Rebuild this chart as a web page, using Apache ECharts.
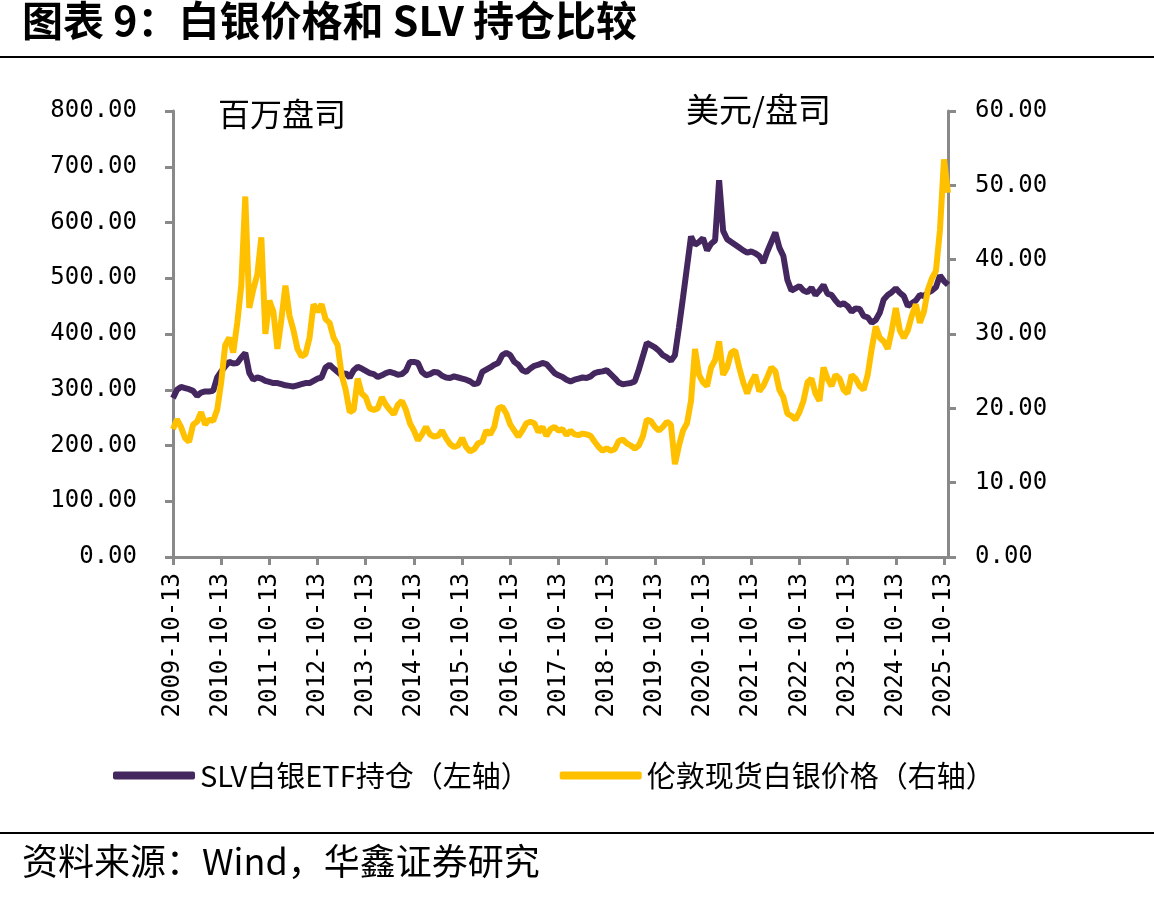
<!DOCTYPE html>
<html lang="zh">
<head>
  <meta charset="UTF-8">
  <title>图表 9</title>
  <script src="https://cdn.jsdelivr.net/npm/echarts@6/dist/echarts.min.js"></script>
</head>
<body style="margin: 0;">
<div id="main" style="width: 1154px; height: 902px;"></div>
<script type="text/javascript">
  // monthly points, 2009-10-13 .. 2025-11-13
  const startYear = 2009, startMonth = 10, monthCount = 194
  const dates = []
  for (let i = 0; i < monthCount; i++) {
    const y = startYear + Math.floor((startMonth - 1 + i) / 12)
    const m = (startMonth - 1 + i) % 12 + 1
    dates.push(y + '-' + (m < 10 ? '0' + m : m) + '-13')
  }

  // SLV白银ETF持仓（百万盎司）
  const slvHoldings = [
    285, 300, 305, 303, 301, 298, 289, 295, 297, 297, 298, 322,
    333, 342, 350, 347, 348, 358, 366, 330, 318, 322, 320, 316,
    314, 312, 312, 310, 308, 307, 306, 308, 310, 312, 312, 316,
    320, 322, 340, 345, 338, 332, 326, 330, 322, 335, 341, 338,
    334, 330, 328, 323, 326, 330, 332, 330, 327, 328, 334, 350,
    350, 348, 332, 326, 328, 332, 331, 325, 322, 321, 324, 322,
    320, 318, 315, 310, 312, 332, 336, 340, 345, 348, 362, 366,
    362, 350, 345, 335, 332, 338, 343, 345, 348, 346, 338, 330,
    326, 323, 318, 315, 318, 320, 322, 321, 324, 330, 332, 333,
    335, 328, 321, 313, 310, 311, 312, 315, 336, 360, 384, 380,
    376, 370, 362, 358, 352, 362, 412, 465, 520, 575, 560, 565,
    572, 550, 562, 568, 676, 585, 570, 565, 560, 555, 550, 546,
    548, 545, 540, 528, 548, 565, 582, 555, 540, 497, 478, 482,
    486, 478, 475, 483, 470, 478, 488, 472, 470, 460, 452, 455,
    450, 440, 446, 445, 432, 430, 420, 425, 438, 462, 470, 475,
    482, 474, 468, 450, 455, 460, 470, 468, 474, 478, 484, 505,
    495, 488
  ]

  // 伦敦现货白银价格（美元/盎司）
  const silverPrice = [
    17.2, 18.5, 17.5, 16.0, 15.5, 17.8, 18.2, 19.5, 17.8, 18.5, 18.3, 19.8,
    23.5, 28.5, 29.5, 27.5, 31.5, 36.5, 48.5, 33.5, 36.0, 38.0, 43.0, 30.0,
    34.5, 33.0, 28.0, 32.0, 36.5, 32.5, 30.5, 28.0, 27.0, 27.3, 29.5, 34.0,
    33.0, 34.0, 32.0, 31.5, 29.5, 28.5, 24.5, 22.5, 19.5, 19.8, 24.0, 22.0,
    21.5, 20.0, 19.8, 20.0, 21.5, 20.5, 19.8, 19.2, 20.5, 21.0, 19.8, 18.0,
    17.0, 15.7, 16.5, 17.5, 16.5, 16.2, 16.3, 17.0, 16.0, 15.2, 14.8, 15.0,
    16.0, 14.8, 14.2, 14.5, 15.3, 15.5, 17.0, 16.5, 17.5, 20.0, 20.2, 19.3,
    17.8, 17.0, 16.2, 17.0, 18.0, 18.2, 18.0, 16.8, 17.5, 16.3, 17.2, 17.5,
    17.0, 17.2, 16.4, 17.0, 16.5, 16.4, 16.6, 16.5, 16.3, 15.5, 14.8, 14.3,
    14.6, 14.3, 14.5, 15.6, 15.8, 15.3, 15.0, 14.6, 15.0, 16.2, 18.5, 18.3,
    17.5, 17.0, 17.5, 18.2, 17.8, 12.5, 15.0, 17.0, 18.0, 21.0, 28.0, 24.5,
    23.5, 23.0, 25.5, 26.5, 29.0, 24.5, 25.5, 27.5, 27.8, 25.5, 23.5, 22.0,
    23.5, 24.5, 22.3, 23.0, 24.2, 25.5, 25.0, 22.5, 21.5, 19.3, 19.0, 18.5,
    19.5, 21.0, 23.5, 24.0, 22.0, 21.0, 25.5, 24.0, 23.0, 24.5, 24.0, 22.5,
    22.0, 24.5, 24.0, 23.0, 22.5, 24.5, 28.0, 31.0, 29.5, 29.0, 28.0, 30.5,
    33.5, 30.5, 29.5, 30.5, 32.5, 34.0, 31.5, 33.0, 36.0, 37.5, 38.5, 44.0,
    53.5, 49.0
  ]

  const seriesNames = ['SLV白银ETF持仓（左轴）', '伦敦现货白银价格（右轴）']
  const colors = ['#45275f', '#ffc000']

  const numFont = 'DejaVu Sans Mono'
  const cjkFont = 'Noto Sans CJK SC'
  const axisGray = '#898989'

  const myChart = echarts.init(document.getElementById('main'))

  const yearTick = (idx) => idx % 12 === 0

  const option = {
    backgroundColor: '#fff',
    animation: false,
    grid: {
      left: 173,
      right: 206,
      top: 111,
      bottom: 345
    },
    legend: {
      left: 108,
      top: 756,
      itemWidth: 82,
      itemHeight: 8,
      itemGap: 30,
      icon: 'roundRect',
      textStyle: {
        fontFamily: cjkFont,
        fontSize: 29,
        color: '#000'
      },
      data: seriesNames
    },
    xAxis: {
      type: 'category',
      boundaryGap: false,
      data: dates,
      axisLine: {lineStyle: {color: axisGray, width: 3}},
      axisTick: {
        interval: yearTick,
        length: 8,
        lineStyle: {color: axisGray, width: 3}
      },
      axisLabel: {
        interval: yearTick,
        rotate: 90,
        margin: 16,
        fontFamily: numFont,
        fontSize: 24,
        color: '#000'
      }
    },
    yAxis: [
      {
        type: 'value',
        min: 0,
        max: 800,
        interval: 100,
        splitLine: {show: false},
        axisLine: {show: true, lineStyle: {color: axisGray, width: 3}},
        axisTick: {show: true, length: 8, lineStyle: {color: axisGray, width: 3}},
        axisLabel: {
          margin: 36,
          fontFamily: numFont,
          fontSize: 24,
          color: '#000',
          formatter: v => v.toFixed(2)
        }
      },
      {
        type: 'value',
        min: 0,
        max: 60,
        interval: 10,
        splitLine: {show: false},
        axisLine: {show: true, lineStyle: {color: axisGray, width: 3}},
        axisTick: {show: true, length: 8, lineStyle: {color: axisGray, width: 3}},
        axisLabel: {
          margin: 27,
          fontFamily: numFont,
          fontSize: 24,
          color: '#000',
          formatter: v => v.toFixed(2)
        }
      }
    ],
    series: [
      {
        name: seriesNames[0],
        type: 'line',
        yAxisIndex: 0,
        data: slvHoldings,
        showSymbol: false,
        symbol: 'none',
        color: colors[0],
        lineStyle: {color: colors[0], width: 6},
        z: 2
      },
      {
        name: seriesNames[1],
        type: 'line',
        yAxisIndex: 1,
        data: silverPrice,
        showSymbol: false,
        symbol: 'none',
        color: colors[1],
        lineStyle: {color: colors[1], width: 6},
        z: 3
      }
    ],
    graphic: [
      {
        type: 'text',
        left: 22,
        top: 0,
        style: {
          text: '图表 9：白银价格和 SLV 持仓比较',
          fontFamily: cjkFont,
          fontWeight: 'bold',
          fontSize: 41,
          fill: '#000'
        }
      },
      {
        type: 'line',
        shape: {x1: 0, y1: 57, x2: 1154, y2: 57},
        style: {stroke: '#000', lineWidth: 2}
      },
      {
        type: 'text',
        left: 218,
        top: 98,
        style: {
          text: '百万盘司',
          fontFamily: cjkFont,
          fontSize: 32,
          fill: '#000'
        }
      },
      {
        type: 'text',
        left: 686,
        top: 93,
        style: {
          text: '美元/盘司',
          fontFamily: cjkFont,
          fontSize: 33,
          fill: '#000'
        }
      },
      {
        type: 'line',
        shape: {x1: 0, y1: 833, x2: 1154, y2: 833},
        style: {stroke: '#000', lineWidth: 2}
      },
      {
        type: 'text',
        left: 22,
        top: 843,
        style: {
          text: '资料来源：Wind，华鑫证券研究',
          fontFamily: cjkFont,
          fontSize: 36,
          fill: '#000'
        }
      }
    ]
  }

  myChart.setOption(option)
</script>
</body>
</html>
